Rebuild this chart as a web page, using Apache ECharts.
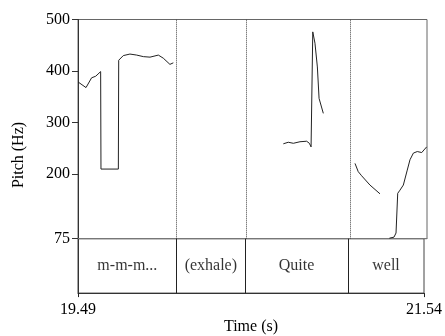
<!DOCTYPE html>
<html><head><meta charset="utf-8">
<script src="https://cdn.jsdelivr.net/npm/echarts@6/dist/echarts.min.js"></script>
<style>html,body{margin:0;padding:0;background:#fff}#c{width:445px;height:336px}</style>
</head><body><div id="c"></div>
<script>
const timeRange = [19.49, 21.54];
const timeTickLabels = [19.49, 21.54];
const pitchRange = [75, 500];
const pitchTicks = [75, 200, 300, 400, 500];
const intervalBounds = [19.49, 20.075, 20.479, 21.09, 21.54];
const intervalLabels = ['m-m-m...', '(exhale)', 'Quite', 'well'];

const seg1Time = [19.49, 19.537, 19.570, 19.594, 19.623, 19.625, 19.727, 19.729, 19.756, 19.795, 19.835, 19.874, 19.913, 19.962, 19.991, 20.030, 20.050];
const seg1Hz   = [379, 368, 387, 390, 399, 210, 210, 421, 430, 433, 431, 428, 427, 431, 425, 413, 416];
const seg2Time = [20.696, 20.725, 20.755, 20.794, 20.833, 20.849, 20.859, 20.869, 20.882, 20.896, 20.906, 20.931];
const seg2Hz   = [259, 262, 260, 263, 264, 260, 253, 476, 454, 408, 347, 318];
const seg3Time = [21.117, 21.136, 21.156, 21.205, 21.264];
const seg3Hz   = [221, 205, 197, 179, 162];
const seg4Time = [21.319, 21.346, 21.358, 21.368, 21.381, 21.401, 21.424, 21.440, 21.460, 21.483, 21.509, 21.522, 21.538];
const seg4Hz   = [76, 78, 86, 163, 169, 179, 208, 228, 241, 244, 242, 247, 253];

const FONT = '"Liberation Serif", "DejaVu Serif", serif';
const segments = [[seg1Time, seg1Hz], [seg2Time, seg2Hz], [seg3Time, seg3Hz], [seg4Time, seg4Hz]];
const pitchSeries = segments.map(([t, h], i) => ({
  type: 'line', xAxisIndex: 0, yAxisIndex: 0, symbol: 'none', silent: true,
  lineStyle: { color: '#222', width: 1 },
  data: t.map((v, k) => [v, h[k]]),
  markLine: i === 0 ? {
    silent: true, symbol: 'none', label: { show: false },
    lineStyle: { type: 'dotted', color: '#444', width: 1 },
    data: intervalBounds.slice(1, -1).map(x => ({ xAxis: x }))
  } : undefined
}));

const chart = echarts.init(document.getElementById('c'));
chart.setOption({
  animation: false,
  backgroundColor: '#fff',
  grid: [
    { left: 78, right: 18, top: 19.5, bottom: 97.3, show: true, borderColor: '#666', borderWidth: 1 },
    { left: 78, right: 18, top: 238.7, bottom: 42, show: true, borderColor: '#444', borderWidth: 1 }
  ],
  xAxis: [
    { type: 'value', gridIndex: 0, min: timeRange[0], max: timeRange[1],
      axisLine: { show: true, lineStyle: { color: '#777' } }, axisTick: { show: false },
      axisLabel: { show: false }, splitLine: { show: false } },
    { type: 'value', gridIndex: 1, min: timeRange[0], max: timeRange[1],
      axisLine: { show: true, lineStyle: { color: '#333' } },
      axisTick: { show: true, customValues: timeTickLabels, length: 4, lineStyle: { color: '#222' } },
      axisLabel: { show: true, customValues: timeTickLabels, formatter: v => v.toFixed(2), margin: 9,
        fontFamily: FONT, fontSize: 16, color: '#000' },
      splitLine: { show: false },
      name: 'Time (s)', nameLocation: 'middle', nameGap: 22,
      nameTextStyle: { fontFamily: FONT, fontSize: 16, color: '#000' } }
  ],
  yAxis: [
    { type: 'value', gridIndex: 0, min: pitchRange[0], max: pitchRange[1],
      axisLine: { show: true, lineStyle: { color: '#333' } },
      axisTick: { show: true, customValues: pitchTicks, length: 6, lineStyle: { color: '#333' } },
      axisLabel: { show: true, customValues: pitchTicks, margin: 8, fontFamily: FONT, fontSize: 16, color: '#000' },
      splitLine: { show: false } },
    { type: 'value', gridIndex: 1, min: 0, max: 1,
      axisLine: { show: true, lineStyle: { color: '#333' } }, axisTick: { show: false },
      axisLabel: { show: false }, splitLine: { show: false } }
  ],
  graphic: [
    { type: 'text', x: 19, y: 155, rotation: Math.PI / 2,
      style: { text: 'Pitch (Hz)', font: '16px ' + FONT, fill: '#000', align: 'center', verticalAlign: 'middle' } }
  ],
  series: pitchSeries.concat([
    { type: 'scatter', xAxisIndex: 1, yAxisIndex: 1, symbolSize: 0, silent: true,
      data: intervalLabels.map((s, i) => [(intervalBounds[i] + intervalBounds[i + 1]) / 2, 0.5, s]),
      label: { show: true, position: 'inside', formatter: p => p.data[2], fontFamily: FONT, fontSize: 16, color: '#000' },
      markLine: { silent: true, symbol: 'none', label: { show: false },
        lineStyle: { type: 'solid', color: '#222', width: 1 },
        data: intervalBounds.slice(1, -1).map(x => ({ xAxis: x })) } }
  ])
});
</script></body></html>
